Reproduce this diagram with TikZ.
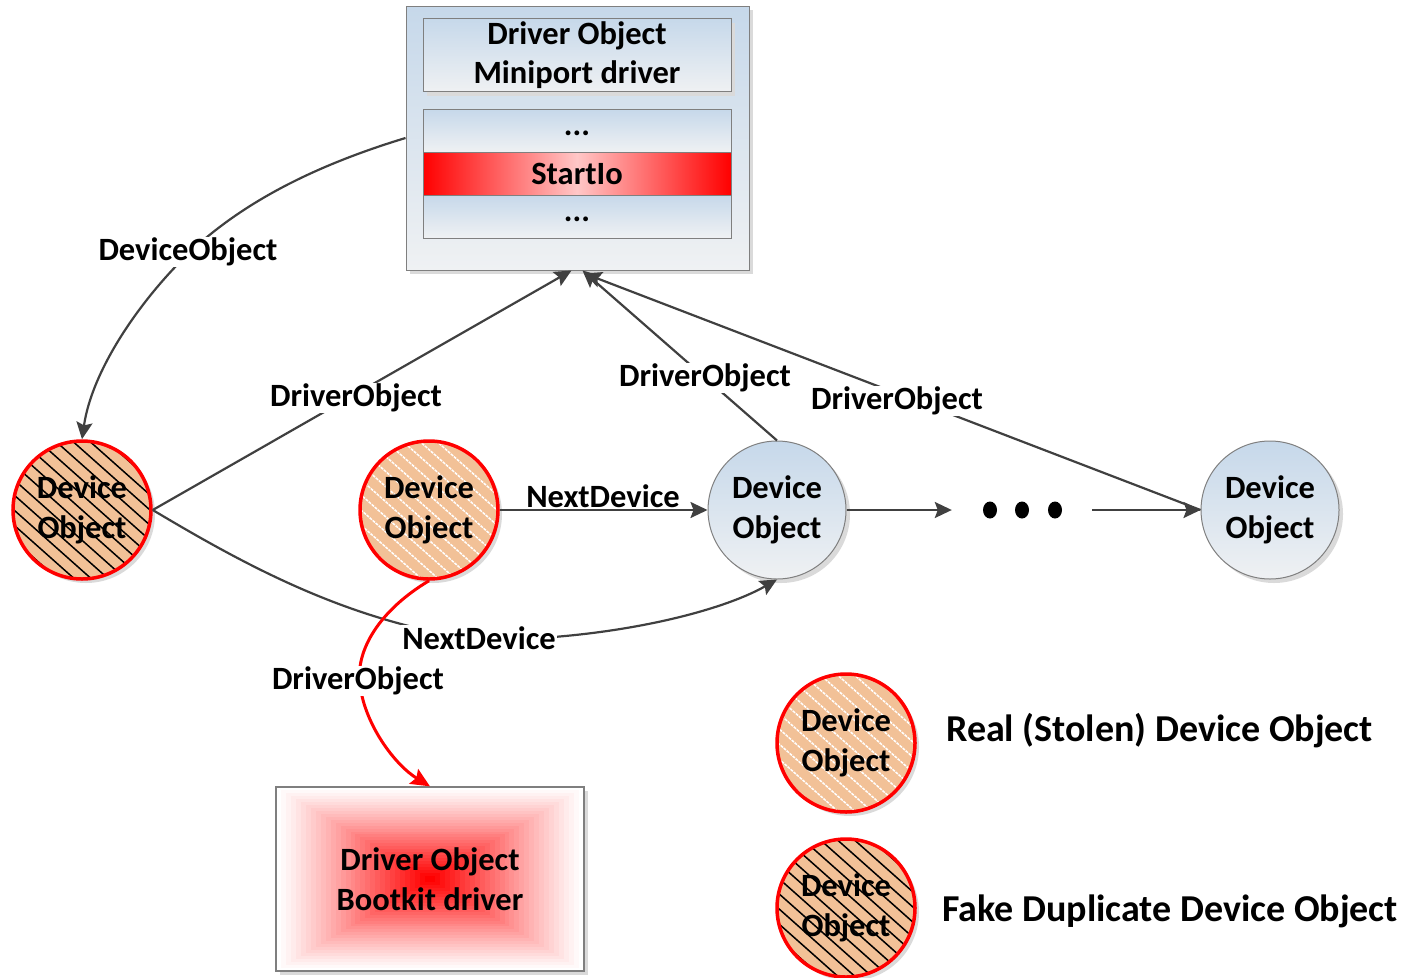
\documentclass[tikz,border=0pt]{standalone}
\usepackage{fontspec}
\setmainfont{Carlito}
\usetikzlibrary{arrows.meta,calc,shadows}

\definecolor{conn}{HTML}{404040}
\definecolor{peach}{HTML}{F2C197}
\definecolor{paletop}{HTML}{C6D8EA}
\definecolor{palebot}{HTML}{EFF1F3}
\definecolor{edgegray}{HTML}{7F7F7F}
\definecolor{shadowgray}{HTML}{DADADA}

\newcommand{\labelfont}{\fontsize{32.5}{39.5}\selectfont\bfseries}
\newcommand{\legendfont}{\fontsize{38}{46}\selectfont\bfseries}

\tikzset{
  softshadow/.style={drop shadow={shadow xshift=4pt,shadow yshift=-4pt,fill=shadowgray,opacity=1}},
  panel/.style={draw=edgegray,line width=1pt,top color=paletop,bottom color=palebot,
    minimum width=308pt,inner sep=0pt,font=\labelfont,align=center},
  device/.style={circle,minimum size=138pt,inner sep=0pt,align=center,font=\labelfont,softshadow},
  bluedev/.style={device,draw=edgegray,line width=1pt,top color=paletop,bottom color=palebot},
  hatched/.style={device,draw=red,line width=3.5pt,fill=peach,
    path picture={
      \foreach \k in {-12,...,12}
        \draw[#1,line width=1.5pt]
          ($(path picture bounding box.center)+(\k*17-90,-80)$) -- ++(180,160);
    }},
  fakedev/.style={hatched=black},
  realdev/.style={hatched={white,line width=1.1pt,dash pattern=on 3pt off 1pt}},
  lbl/.style={font=\labelfont,fill=white,inner sep=1pt},
  conn/.style={draw=conn,line width=2.2pt,-{Stealth[length=17pt,width=16pt,inset=3pt]}},
  redconn/.style={draw=red,line width=3pt,-{Stealth[length=19pt,width=17pt,inset=3pt]}},
}

\begin{document}
\begin{tikzpicture}[x=1pt,y=-1pt]
\useasboundingbox (0,0) rectangle (1418,977);

% ---- miniport driver object with its dispatch table
\node[draw=edgegray,line width=1pt,top color=paletop,bottom color=palebot,
      minimum width=343pt,minimum height=264pt,softshadow] (topbox) at (577.5,138) {};
\node[panel,minimum height=73pt,softshadow] (miniport) at (577,55)
  {Driver Object\\Miniport driver};
\node[panel,minimum height=43pt] (rowa) at (577,130.5) {\raisebox{-5pt}[0pt][0pt]{...}};
\node[panel,minimum height=43pt,draw=edgegray,shading=axis,
      left color=red,right color=red,middle color=red!22] (startio) at (577,173.5) {StartIo};
\node[panel,minimum height=43pt] (rowb) at (577,216.5) {\raisebox{-5pt}[0pt][0pt]{...}};

% ---- bootkit driver object (rectangular red glow)
\node[minimum width=308pt,minimum height=184pt,draw=edgegray,line width=1.3pt,
      inner sep=0pt,font=\labelfont,align=center,fill=white,softshadow,
      path picture={
        \foreach \i [evaluate=\i as \c using {100*(\i/30)^1.1}] in {1,...,30}
          \fill[red!\c!white]
            ($(path picture bounding box.north west)+(\i*154/31,\i*92/31)$) rectangle
            ($(path picture bounding box.south east)+(-\i*154/31,-\i*92/31)$);
      }] (boot) at (430,879) {Driver Object\\Bootkit driver};

% ---- device objects
\node[fakedev] (fake) at (82,510) {Device\\Object};
\node[realdev] (real) at (429,510) {Device\\Object};
\node[bluedev] (dev)  at (777,510) {Device\\Object};
\node[bluedev] (last) at (1270,510) {Device\\Object};

% ---- ellipsis between the device objects
\node[minimum width=140pt,minimum height=20pt,inner sep=0pt] (dots) at (1022,510) {};
\foreach \dx in {-32,0,33}
  \fill ($(dots.center)+(\dx,0)$) ellipse (7pt and 8.5pt);

% ---- legend
\node[realdev] (legreal) at (846,743) {Device\\Object};
\node[fakedev] (legfake) at (846,908) {Device\\Object};
\node[anchor=west,font=\legendfont,inner sep=0pt] (legrealtxt) at (946,731) {Real (Stolen) Device Object};
\node[anchor=west,font=\legendfont,inner sep=0pt] (legfaketxt) at (942,911) {Fake Duplicate Device Object};

% ---- connectors
\draw[conn] (topbox.west) .. controls (300,170) and (235,210) .. (190,252)
                          .. controls (140,300) and (92,370) .. (fake.north);
\draw[conn] (fake.east) -- ([xshift=-6pt]topbox.south);
\draw[conn] (dev.north) -- ([xshift=5pt]topbox.south);
\draw[conn] (last.west) -- ([xshift=7pt,yshift=-3pt]topbox.south);
\draw[conn] (real.east) -- (dev.west);
\draw[conn] (fake.east) .. controls (250,568) and (350,622) .. (480,640)
                        .. controls (610,640) and (720,612) .. (dev.south);
\draw[conn] (dev.east) -- (dots.west);
\draw[conn] (dots.east) -- (last.west);
\draw[redconn] (real.south) .. controls (380,610) and (355,650) .. (360,685)
                            .. controls (365,725) and (395,765) .. (boot.north);

% ---- connector labels
\node[lbl] (lbdevobj) at (188,252) {DeviceObject};
\node[lbl] (lbdrv1)   at (356,398) {DriverObject};
\node[lbl] (lbdrv2)   at (705,378) {DriverObject};
\node[lbl] (lbdrv3)   at (897,401) {DriverObject};
\node[lbl] (lbnext1)  at (603,496) {NextDevice};
\node[lbl] (lbnext2)  at (479,638) {NextDevice};
\node[lbl] (lbdrv4)   at (358,681) {DriverObject};
\end{tikzpicture}
\end{document}
